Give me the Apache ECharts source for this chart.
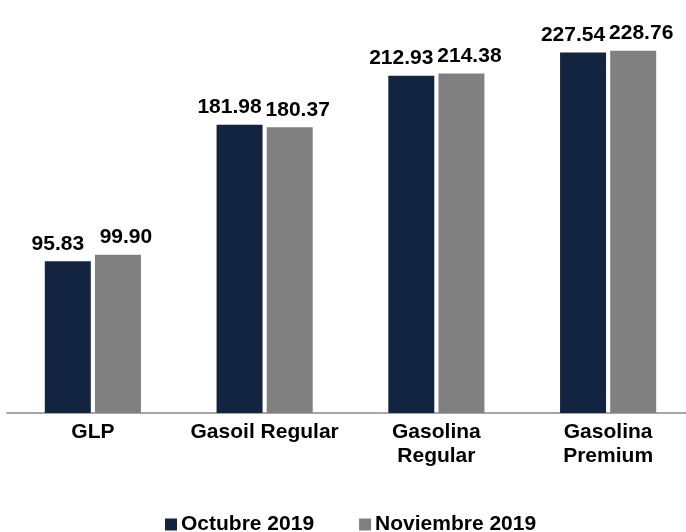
<!DOCTYPE html>
<html>
<head>
<meta charset="utf-8">
<script src="https://cdn.jsdelivr.net/npm/echarts@6/dist/echarts.min.js"></script>
<style>
    html, body { margin: 0; padding: 0; background: #fff; }
    #chart { width: 686px; height: 532px; }
</style>
</head>
<body>
<div id="chart"></div>
<script>
    const categories = ['GLP', 'Gasoil Regular', 'Gasolina\nRegular', 'Gasolina\nPremium'];
    const seriesNames = ['Octubre 2019', 'Noviembre 2019'];
    const octubre = [95.83, 181.98, 212.93, 227.54];
    const noviembre = [99.90, 180.37, 214.38, 228.76];

    const font = 'Liberation Sans, Arial, sans-serif';
    const colors = ['#12243f', '#808080'];

    const chart = echarts.init(document.getElementById('chart'));

    function barSeries(name, values, color, dx) {
        return {
            name: name,
            type: 'bar',
            data: values,
            barWidth: 46,
            barGap: '9%',
            itemStyle: {color: color},
            label: {
                show: true,
                position: 'top',
                distance: 7,
                offset: [dx, 0],
                color: '#000',
                fontFamily: font,
                fontWeight: 'bold',
                fontSize: 21,
                formatter: p => p.value.toFixed(2)
            }
        };
    }

    chart.setOption({
        animation: false,
        grid: {left: 7, width: 687, top: 17, bottom: 119, outerBoundsMode: 'none'},
        legend: {
            data: seriesNames,
            left: 160,
            top: 509,
            icon: 'rect',
            itemWidth: 12,
            itemHeight: 12,
            itemGap: 45,
            textStyle: {color: '#000', fontFamily: font, fontWeight: 'bold', fontSize: 21, padding: [0, 0, 0, -1]}
        },
        xAxis: {
            type: 'category',
            data: categories,
            axisLine: {lineStyle: {color: '#a6a6a6', width: 2}},
            axisTick: {show: false},
            axisLabel: {
                color: '#000',
                fontFamily: font,
                fontWeight: 'bold',
                fontSize: 21,
                lineHeight: 24,
                margin: 7,
                interval: 0
            }
        },
        yAxis: {
            type: 'value',
            min: 0,
            max: 250,
            show: false,
            splitLine: {show: false}
        },
        series: [
            barSeries(seriesNames[0], octubre, colors[0], -10),
            barSeries(seriesNames[1], noviembre, colors[1], 8)
        ]
    });
</script>
</body>
</html>
